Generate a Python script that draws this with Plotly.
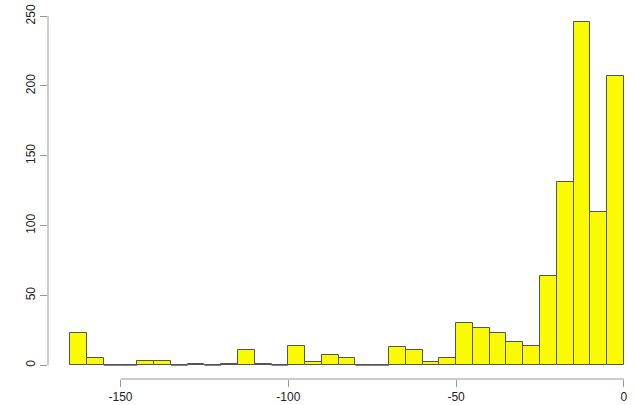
import plotly.graph_objects as go

bin_start = -165
bin_width = 5
counts = [23, 5, 0, 0, 3, 3, 0, 1, 0, 1, 11, 1, 0, 14, 2, 7, 5, 0, 0,
          13, 11, 2, 5, 30, 27, 23, 17, 14, 64, 131, 246, 110, 207]
x_ticks = [-150, -100, -50, 0]
x_tick_labels = ["-150", "-100", "-50", "0"]
y_ticks = [0, 50, 100, 150, 200, 250]
y_tick_labels = ["0", "50", "100", "150", "200", "250"]

centers = [bin_start + bin_width * (i + 0.5) for i in range(len(counts))]

fig = go.Figure()
fig.add_trace(go.Bar(
    x=centers, y=counts, width=[bin_width] * len(counts),
    marker=dict(color="#FAFA00", line=dict(color="#555555", width=1)),
    hoverinfo="x+y",
))
# zero-count bins: baseline border as in R
for c, v in zip(centers, counts):
    if v == 0:
        fig.add_shape(type="line", xref="x", yref="y",
                      x0=c - bin_width / 2, x1=c + bin_width / 2, y0=0, y1=0,
                      line=dict(color="#555555", width=1))

fig.add_shape(type="line", xref="x", yref="paper", x0=x_ticks[0], x1=x_ticks[-1],
              y0=0, y1=0, line=dict(color="#999999", width=1))
fig.add_shape(type="line", xref="paper", yref="y", x0=0, x1=0,
              y0=y_ticks[0], y1=y_ticks[-1], line=dict(color="#999999", width=1))

fig.update_layout(
    width=634, height=405,
    margin=dict(l=48, r=0, t=8, b=26),
    plot_bgcolor="white", paper_bgcolor="white",
    showlegend=False, bargap=0,
    font=dict(family="Liberation Sans, Arial, sans-serif", size=12, color="#222222"),
    xaxis=dict(range=[-171.6, 3], tickvals=x_ticks, ticktext=x_tick_labels,
               ticks="outside", ticklen=7,
               tickcolor="#999999", showgrid=False, zeroline=False, showline=False),
    yaxis=dict(range=[-9.84, 255.84], tickvals=y_ticks, ticktext=y_tick_labels,
               ticks="outside", ticklen=7,
               tickcolor="#999999", tickangle=-90, showgrid=False, zeroline=False,
               showline=False),
)
fig.write_html("out.html", config={"displayModeBar": False},
               post_script="document.body.style.margin='0';document.body.style.overflow='hidden';")
